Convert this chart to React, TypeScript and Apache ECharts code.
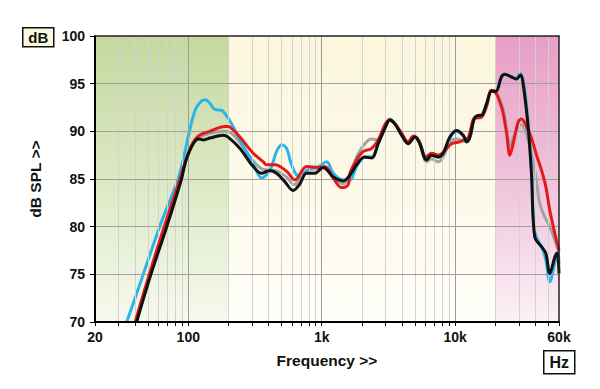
import React, { useEffect, useRef } from "react";
import * as echarts from "echarts";

// ---------- data ----------
const X_MIN = 20;
const X_MAX = 60000;
const Y_MIN = 70;
const Y_MAX = 100;
const Y_STEP = 5;

const X_LABELS = [20, 100, 1000, 10000, 60000];
const X_MAJOR_GRID = [100, 1000, 10000];
const X_MINOR_GRID = [
  30, 40, 50, 60, 70, 80, 90,
  200, 300, 400, 500, 600, 700, 800, 900,
  2000, 3000, 4000, 5000, 6000, 7000, 8000, 9000,
  20000, 30000, 40000, 50000,
];
const X_TICKS = [20, ...X_MINOR_GRID, ...X_MAJOR_GRID, 60000].sort((a, b) => a - b);
const Y_GRID = [75, 80, 85, 90, 95];

const BANDS = [
  { from: 20, to: 200, name: "bass" },
  { from: 200, to: 20000, name: "mid" },
  { from: 20000, to: 60000, name: "ultra" },
];

const grayData: [number, number][] = [
  [41, 70], [52, 75], [68, 80], [88, 85], [94, 86.6], [100, 87.8], [107, 88.7], [118, 89.3], [145, 89.8],
  [188, 90.0], [211, 89.8], [244, 88.8], [307, 86.9], [365, 86.0], [446, 85.9], [546, 85.2],
  [620, 84.4], [771, 85.9], [968, 86.1], [1057, 86.2], [1220, 85.2], [1449, 84.5], [1626, 85.4],
  [1824, 87.3], [2104, 88.7], [2364, 89.2], [2650, 89.1], [2972, 90.4], [3243, 91.2], [3532, 90.8],
  [3966, 89.7], [4444, 88.8], [4988, 89.4], [5436, 88.8], [6106, 86.8], [6654, 87.1], [7464, 86.8],
  [8128, 87.3], [9126, 88.9], [10240, 89.2], [11500, 89.0], [12200, 88.9], [12900, 89.4],
  [14000, 91.4], [15800, 91.6], [17200, 92.8], [18700, 94.2], [20200, 94.1], [21600, 93.3],
  [22900, 92.3], [24300, 90.2], [25700, 88.5], [27200, 89.3], [29700, 90.5], [31400, 90.7],
  [35200, 89.1], [39500, 85.9], [43100, 82.4], [47000, 81.0], [51200, 80.0], [55800, 78.6],
  [59000, 77.6], [60000, 77.3],
];

const cyanData: [number, number][] = [
  [34.6, 70], [46, 75], [61, 80], [84, 85], [92.6, 87.3], [102, 90], [112.6, 92.2], [122, 93.0],
  [133, 93.3], [142, 93.1], [158, 92.3], [178, 92.2], [192, 91.7], [211, 90.8], [244, 89.1],
  [307, 86.6], [355, 85.1], [409, 85.9], [459, 87.9], [501, 88.6], [546, 88.2], [590, 86.6],
  [649, 85.4], [690, 85.3], [817, 86.1], [942, 86.3], [1088, 86.8], [1220, 85.6], [1449, 84.9],
  [1626, 84.9], [1824, 86.3], [2104, 87.3], [2364, 87.3], [2650, 88.7], [2972, 90.4], [3243, 91.3],
  [3532, 90.8], [3966, 89.8], [4444, 88.8], [4988, 89.4], [5436, 88.8], [6106, 87.0], [6654, 87.5],
  [7464, 87.3], [8128, 87.7], [9126, 89.3], [10240, 90.0], [11500, 89.5], [12200, 88.9],
  [12900, 89.4], [14000, 91.4], [15800, 91.7], [17200, 92.9], [18700, 94.2], [20200, 94.2],
  [22200, 95.7], [23500, 96.0], [26400, 95.7], [28800, 95.5], [30500, 96.1], [32300, 95.4],
  [35200, 91.0], [37300, 86.0], [39500, 79.5], [45600, 77.5], [47800, 76.5], [51200, 74.2],
  [55800, 76.2], [59000, 77.4], [60000, 76.0],
];

const redData: [number, number][] = [
  [40, 70], [51, 75], [66, 80], [86.7, 85], [92, 86.2], [98, 87.3], [105, 88.4], [112, 89.1],
  [122, 89.6], [145, 90.0], [188, 90.5], [199, 90.5], [211, 90.3], [244, 89.4], [307, 87.7],
  [365, 86.8], [386, 86.5], [446, 86.5], [546, 85.8], [630, 84.9], [771, 86.3], [968, 86.2],
  [1057, 86.3], [1220, 85.1], [1410, 84.1], [1578, 84.4], [1626, 85.6], [1824, 87.0], [2050, 87.9],
  [2364, 88.2], [2650, 89.1], [2972, 90.7], [3200, 91.2], [3532, 90.8], [3966, 89.8], [4444, 88.9],
  [4870, 89.5], [5300, 89.1], [6000, 87.3], [6654, 87.7], [7464, 87.5], [8400, 88.0], [9400, 88.7],
  [10800, 88.9], [12000, 89.2], [12600, 89.4], [14000, 91.4], [14500, 91.4], [15800, 91.5],
  [17200, 92.6], [18700, 94.3], [20200, 94.0], [21600, 93.1], [22900, 91.9], [24300, 89.8],
  [25700, 87.5], [27200, 88.7], [29700, 91.0], [31400, 91.3], [34300, 90.5], [37300, 89.3],
  [40700, 87.5], [44400, 85.9], [47800, 84.2], [51200, 81.7], [55800, 79.3], [59000, 77.9],
  [60000, 77.5],
];

const blackData: [number, number][] = [
  [41, 70], [52.5, 75], [69, 80], [89, 85], [93, 86.2], [98, 87.3], [109, 88.7], [119, 89.2],
  [130, 89.1], [145, 89.3], [183, 89.6], [199, 89.4], [244, 88.2], [307, 86.3], [355, 85.6],
  [409, 85.9], [459, 85.6], [530, 84.7], [611, 83.8], [680, 84.4], [771, 85.6], [889, 85.6],
  [1026, 86.2], [1120, 85.8], [1220, 85.2], [1449, 84.8], [1626, 85.4], [1824, 86.5], [2104, 87.3],
  [2364, 87.2], [2650, 88.7], [2972, 90.3], [3243, 91.2], [3532, 90.8], [3966, 89.6], [4444, 88.7],
  [4988, 89.4], [5436, 88.7], [6106, 87.0], [6654, 87.5], [7464, 87.3], [8128, 87.7], [9126, 89.4],
  [10240, 90.1], [11500, 89.6], [12200, 88.9], [12900, 89.4], [14000, 91.4], [15300, 91.7],
  [15800, 91.7], [17200, 92.9], [18700, 94.2], [20200, 94.2], [22200, 95.7], [23500, 96.0],
  [26400, 95.7], [28800, 95.5], [30900, 95.9], [32300, 95.0], [35200, 90.5], [37300, 85.6],
  [39500, 78.9], [44400, 77.9], [47800, 77.2], [51200, 75.1], [55800, 76.8], [58100, 77.2],
  [60000, 75.1],
];

// ---------- styling ----------
const FONT = "'Liberation Sans', Arial, Helvetica, sans-serif";
const BAND_COLORS: Record<string, string[]> = {
  bass: ["#c4d8a0", "#dce8c4", "#f6f9ee"],
  mid: ["#fbf6dc", "#fcf9e8", "#fffef9"],
  ultra: ["#e89ec6", "#f0c2da", "#fcf1f6"],
};

const fmtFreq = (v: number) => (v >= 1000 ? `${Math.round(v / 1000)}k` : `${v}`);

export default function App() {
  const ref = useRef<HTMLDivElement>(null);

  useEffect(() => {
    document.body.style.margin = "0";
    if (!ref.current) return;
    const chart = echarts.init(ref.current, null, { renderer: "svg" });

    const grad = (cols: string[]) =>
      new echarts.graphic.LinearGradient(0, 0, 0, 1, [
        { offset: 0, color: cols[0] },
        { offset: 0.5, color: cols[1] },
        { offset: 1, color: cols[2] },
      ]);

    const lineSeries = (name: string, data: [number, number][], color: string, z: number) => ({
      name,
      type: "line",
      data,
      z,
      showSymbol: false,
      symbol: "none",
      smooth: 0.35,
      silent: true,
      clip: true,
      lineStyle: { color, width: 3 },
    });

    chart.setOption({
      animation: false,
      grid: { left: 95, right: 41, top: 36, bottom: 67, containLabel: false },
      xAxis: [
        {
          type: "log",
          logBase: 10,
          min: X_MIN,
          max: X_MAX,
          z: 10,
          name: "Frequency >>",
          nameLocation: "middle",
          nameGap: 30,
          nameTextStyle: { fontFamily: FONT, fontWeight: "bold", fontSize: 15.5, color: "#111" },
          axisLine: { show: true, lineStyle: { color: "#000", width: 2 } },
          axisTick: { show: true, length: 4, customValues: X_TICKS, lineStyle: { color: "#000", width: 1 } },
          axisLabel: {
            customValues: X_LABELS,
            formatter: (v: number) => fmtFreq(v),
            fontFamily: FONT,
            fontWeight: "bold",
            fontSize: 14,
            color: "#111",
            margin: 8,
          },
          splitLine: { show: false },
          minorTick: { show: false },
        },
        {
          type: "log",
          logBase: 10,
          min: X_MIN,
          max: X_MAX,
          position: "top",
          z: 10,
          axisLine: { show: true, onZero: false, lineStyle: { color: "#222", width: 1.5 } },
          axisTick: { show: false },
          axisLabel: { show: false },
          splitLine: { show: false },
        },
      ],
      yAxis: [
        {
          type: "value",
          min: Y_MIN,
          max: Y_MAX,
          interval: Y_STEP,
          z: 10,
          name: "dB SPL >>",
          nameLocation: "middle",
          nameRotate: 90,
          nameGap: 52,
          nameTextStyle: { fontFamily: FONT, fontWeight: "bold", fontSize: 15.5, color: "#111" },
          axisLine: { show: true, lineStyle: { color: "#000", width: 2 } },
          axisTick: { show: true, length: 5, lineStyle: { color: "#000", width: 1 } },
          axisLabel: { fontFamily: FONT, fontWeight: "bold", fontSize: 14, color: "#111", margin: 10 },
          splitLine: { show: false },
        },
        {
          type: "value",
          min: Y_MIN,
          max: Y_MAX,
          interval: Y_STEP,
          position: "right",
          z: 10,
          axisLine: { show: true, onZero: false, lineStyle: { color: "#222", width: 1.5 } },
          axisTick: { show: false },
          axisLabel: { show: false },
          splitLine: { show: false },
        },
      ],
      series: [
        {
          name: "bands",
          type: "line",
          data: [],
          z: 1,
          silent: true,
          markArea: {
            silent: true,
            label: { show: false },
            data: BANDS.map((b) => [
              { xAxis: b.from, itemStyle: { color: grad(BAND_COLORS[b.name]), opacity: 1, borderWidth: 0 } },
              { xAxis: b.to },
            ]),
          },
        },
        {
          name: "grid",
          type: "line",
          data: [],
          z: 2,
          silent: true,
          markLine: {
            silent: true,
            symbol: ["none", "none"],
            label: { show: false },
            emphasis: { disabled: true },
            data: [
              ...X_MINOR_GRID.map((v) => ({ xAxis: v, lineStyle: { color: "#d2d2d2", width: 1, type: "solid" } })),
              ...X_MAJOR_GRID.map((v) => ({ xAxis: v, lineStyle: { color: "#9c9c9c", width: 1, type: "solid" } })),
              ...Y_GRID.map((v) => ({ yAxis: v, lineStyle: { color: "#a0a0a0", width: 1, type: "solid" } })),
            ],
          },
        },
        lineSeries("gray", grayData, "#a3a3a3", 3),
        lineSeries("cyan", cyanData, "#29b5ea", 4),
        lineSeries("red", redData, "#e3191c", 5),
        lineSeries("black", blackData, "#111111", 6),
      ],
      graphic: [
        {
          type: "group",
          left: 22,
          top: 27,
          children: [
            { type: "rect", shape: { x: 0, y: 0, width: 31, height: 19 }, style: { fill: "#fbf8dc", stroke: "#111", lineWidth: 1.5 } },
            { type: "text", x: 15.5, y: 10, style: { text: "dB", font: `bold 15px ${FONT}`, fill: "#111", align: "center", verticalAlign: "middle" } },
          ],
        },
        {
          type: "group",
          left: 543,
          top: 350,
          children: [
            { type: "rect", shape: { x: 0, y: 0, width: 31, height: 23 }, style: { fill: "#ffffff", stroke: "#111", lineWidth: 1.5 } },
            { type: "text", x: 15.5, y: 12, style: { text: "Hz", font: `bold 16px ${FONT}`, fill: "#111", align: "center", verticalAlign: "middle" } },
          ],
        },
      ],
    });

    return () => chart.dispose();
  }, []);

  return <div ref={ref} style={{ width: 600, height: 389 }} />;
}
